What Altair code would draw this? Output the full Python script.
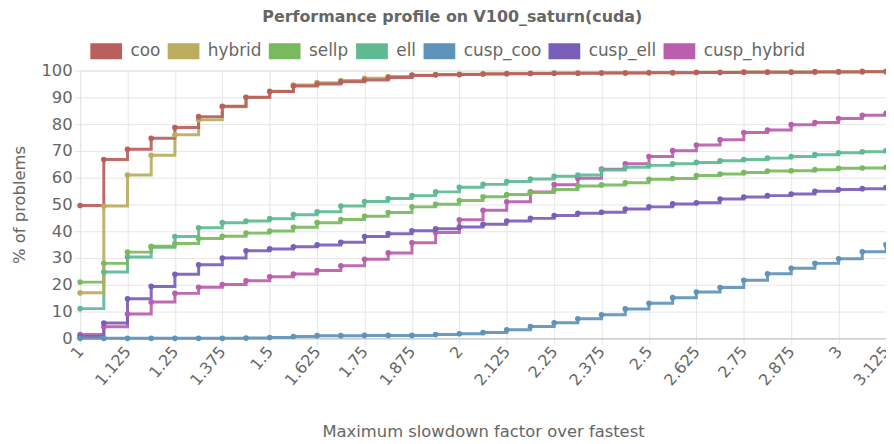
import altair as alt
import pandas as pd

# x positions of the profile samples
x_vals = [1.0, 1.0625, 1.125, 1.1875, 1.25, 1.3125, 1.375, 1.4375, 1.5, 1.5625,
          1.625, 1.6875, 1.75, 1.8125, 1.875, 1.9375, 2.0, 2.0625, 2.125, 2.1875,
          2.25, 2.3125, 2.375, 2.4375, 2.5, 2.5625, 2.625, 2.6875, 2.75, 2.8125,
          2.875, 2.9375, 3.0, 3.0625, 3.125]

tick_vals = [1, 1.125, 1.25, 1.375, 1.5, 1.625, 1.75, 1.875, 2, 2.125, 2.25,
             2.375, 2.5, 2.625, 2.75, 2.875, 3, 3.125]

series_names = ["coo", "hybrid", "sellp", "ell", "cusp_coo", "cusp_ell", "cusp_hybrid"]
series_colors = ["#BA5E5E", "#BAAD5E", "#79BA5E", "#5EBA93", "#5E93BA", "#795EBA", "#BA5EAD"]

coo = [49.6, 66.8, 70.6, 74.7, 78.7, 82.8, 86.7, 90.0, 92.2, 94.2, 95.0, 95.8, 96.5,
       97.4, 98.2, 98.4, 98.5, 98.7, 98.8, 98.9, 99.0, 99.0, 99.1, 99.1, 99.2, 99.2,
       99.3, 99.3, 99.4, 99.4, 99.4, 99.5, 99.5, 99.6, 99.6]
hybrid = [17.0, 49.4, 61.0, 68.4, 76.0, 81.6, 86.5, 89.9, 92.3, 94.6, 95.5, 96.3, 97.1,
          97.8, 98.3, 98.5, 98.6, 98.8, 98.9, 99.0, 99.1, 99.1, 99.2, 99.2, 99.3, 99.3,
          99.4, 99.4, 99.5, 99.5, 99.5, 99.6, 99.6, 99.7, 99.7]
sellp = [21.0, 28.0, 32.2, 34.4, 35.4, 37.3, 38.1, 39.3, 40.1, 41.5, 43.2, 44.4, 45.6,
         47.0, 49.1, 50.1, 51.5, 52.9, 53.7, 54.5, 55.6, 56.9, 57.3, 58.1, 59.4, 59.7,
         60.8, 61.4, 61.9, 62.5, 62.6, 63.0, 63.5, 63.6, 63.9]
ell = [11.1, 24.8, 30.4, 34.0, 38.0, 41.3, 43.2, 43.8, 44.7, 46.2, 47.3, 49.4, 51.1,
       52.2, 53.3, 54.7, 56.4, 57.5, 58.6, 59.5, 60.5, 61.0, 62.9, 63.9, 64.6, 65.2,
       65.7, 66.3, 66.8, 67.3, 67.9, 68.6, 69.3, 69.7, 70.1]
cusp_coo = [0.0, 0.0, 0.0, 0.0, 0.0, 0.0, 0.0, 0.1, 0.3, 0.7, 1.0, 1.0, 1.1, 1.1, 1.1,
            1.4, 1.7, 2.2, 3.2, 4.4, 5.8, 7.3, 8.8, 11.0, 13.1, 15.2, 17.3, 19.0, 21.7,
            24.1, 26.2, 28.0, 29.7, 32.3, 35.0]
cusp_ell = [0.7, 5.7, 14.8, 19.4, 23.9, 27.5, 30.0, 32.7, 33.4, 34.2, 34.9, 35.9, 38.0,
            39.1, 40.2, 40.9, 41.6, 42.6, 43.8, 44.8, 45.9, 46.7, 47.1, 48.3, 49.1, 50.2,
            50.6, 52.0, 52.8, 53.3, 53.9, 54.9, 55.6, 55.9, 56.3]
cusp_hybrid = [1.4, 4.3, 9.1, 13.6, 16.8, 19.1, 20.1, 21.5, 23.0, 24.0, 25.3, 27.1, 29.5,
               31.9, 35.7, 39.5, 44.3, 47.8, 51.0, 54.7, 57.4, 59.8, 63.2, 65.2, 67.9,
               70.1, 72.2, 74.2, 76.9, 77.8, 79.8, 80.6, 82.1, 83.3, 84.0]

series_values = [coo, hybrid, sellp, ell, cusp_coo, cusp_ell, cusp_hybrid]

rows = []
# reversed so that the first series is drawn on top
for k in reversed(range(len(series_names))):
    for xv, yv in zip(x_vals, series_values[k]):
        rows.append({"x": xv, "v": yv, "series": series_names[k], "rank": k})
df = pd.DataFrame(rows)

FONT = "DejaVu Sans"
GREY = "#666666"
GRID = "#e6e6e6"

x_enc = alt.X(
    "x:Q",
    scale=alt.Scale(domain=[1, 3.125], nice=False, zero=False),
    axis=alt.Axis(
        values=tick_vals, format=".4~f", labelAngle=310, labelAlign="right",
        labelBaseline="middle", labelFont=FONT, labelFontSize=16, labelColor=GREY,
        labelPadding=4, labelOverlap=False, labelFlush=False, labelBound=False,
        grid=True, gridColor=GRID, tickColor=GRID, tickSize=6,
        domainColor="#cfcfcf", domainWidth=1.5,
        title="Maximum slowdown factor over fastest", titleFont=FONT,
        titleFontSize=16.5, titleFontWeight="normal", titleColor=GREY,
        titleBaseline="alphabetic", titleY=99.3,
    ),
)
y_enc = alt.Y(
    "v:Q",
    scale=alt.Scale(domain=[0, 100], nice=False),
    axis=alt.Axis(
        values=[0, 10, 20, 30, 40, 50, 60, 70, 80, 90, 100],
        labelFont=FONT, labelFontSize=16.5, labelColor=GREY, labelPadding=2,
        grid=True, gridColor=GRID, tickColor=GRID, tickSize=6,
        domainColor=GRID,
        title="% of problems", titleFont=FONT, titleFontSize=16.5,
        titleFontWeight="normal", titleColor=GREY, titleAngle=270,
        titleBaseline="middle", titleX=-61, titleY=135, titleAlign="center",
    ),
)
color_scale = alt.Scale(domain=series_names, range=series_colors)

lines = alt.Chart(df).mark_line(
    interpolate="step-after", strokeWidth=3, opacity=0.92
).encode(
    x=x_enc, y=y_enc,
    color=alt.Color("series:N", scale=color_scale, legend=None),
    order=alt.Order("x:Q"),
)

points = alt.Chart(df).mark_point(filled=True, size=32, opacity=1).encode(
    x=x_enc, y=y_enc,
    color=alt.Color(
        "series:N", scale=color_scale,
        legend=alt.Legend(
            orient="none", legendX=10.3, legendY=-35.5, direction="horizontal",
            columns=7, title=None, padding=0,
            symbolType="M-1,-0.5H1V0.5H-1Z", symbolSize=1024,
            symbolStrokeWidth=0, symbolOpacity=1,
            labelFont=FONT, labelFontSize=17, labelColor=GREY,
            labelOffset=8.5, columnPadding=7,
        ),
    ),
    order=alt.Order("rank:Q", sort="descending"),
)

chart = alt.layer(lines, points).resolve_legend(color="independent").properties(
    width=812.6,
    height=270,
    title=alt.TitleParams(
        "Performance profile on V100_saturn(cuda)", font=FONT, fontSize=16,
        fontWeight="bold", color=GREY, anchor="middle", dx=-31, offset=10,
    ),
    autosize=alt.AutoSizeParams(type="none"),
    padding={"left": 72.7, "top": 61.3, "right": 0, "bottom": 101},
).configure_view(stroke=None).configure(background="white")

chart.save("out.html", embed_options={"renderer": "svg", "actions": False})
